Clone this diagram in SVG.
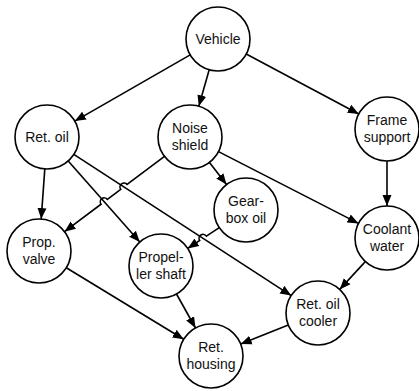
<svg xmlns="http://www.w3.org/2000/svg" width="419" height="391" viewBox="0 0 419 391">
<style>
.n circle{fill:#fff;stroke:#000;stroke-width:1.6}
.n text{font-family:"Liberation Sans",Arial,sans-serif;font-size:14px;fill:#111;text-anchor:middle}
.e path{fill:none;stroke:#000;stroke-width:1.6;marker-end:url(#ah)}
</style>
<defs>
<marker id="ah" markerUnits="userSpaceOnUse" markerWidth="12" markerHeight="10" refX="11" refY="5" orient="auto">
<path d="M0,0.5 L11,5 L0,9.5 z" fill="#000"/>
</marker>
</defs>
<g class="e" id="connectors">
<path d="M190.2,54.9 L74.8,121.1"/>
<path d="M209.2,69.8 L198.8,106.2"/>
<path d="M246.2,54 L358.8,114"/>
<path d="M44.8,168.9 L41.2,219.1"/>
<path d="M68.2,161 L139.8,242"/>
<path d="M73.8,154.4 L291.2,295.6"/>
<path d="M164.5,156.3 L127.09,184.49 A4,4 0 0 0 120.71,189.31 L107.39,199.39 A4,4 0 0 0 101.01,204.21 L64.5,231.7"/>
<path d="M209.5,162.4 L226.5,184.6"/>
<path d="M218.5,151.6 L358.5,223.4"/>
<path d="M387,161 L387,206"/>
<path d="M219.3,227.6 L206.34,236.1 A4,4 0 0 0 199.66,240.5 L187.7,248.4"/>
<path d="M365.3,261.6 L339.7,289.4"/>
<path d="M66.3,267.7 L183.7,339.3"/>
<path d="M176.5,294 L195.5,328"/>
<path d="M288.3,324.9 L240.7,344.1"/>
</g>
<g class="n" id="vehicle"><circle cx="218" cy="39" r="32"/><text x="218" y="44">Vehicle</text></g>
<g class="n" id="ret-oil"><circle cx="47" cy="137" r="32"/><text x="47" y="142">Ret. oil</text></g>
<g class="n" id="noise-shield"><circle cx="190" cy="137" r="32"/><text x="190" y="133">Noise</text><text x="190" y="150">shield</text></g>
<g class="n" id="frame-support"><circle cx="387" cy="129" r="32"/><text x="387" y="125">Frame</text><text x="387" y="142">support</text></g>
<g class="n" id="gearbox-oil"><circle cx="246" cy="210" r="32"/><text x="246" y="206">Gear-</text><text x="246" y="223">box oil</text></g>
<g class="n" id="coolant-water"><circle cx="387" cy="238" r="32"/><text x="387" y="234">Coolant</text><text x="387" y="251">water</text></g>
<g class="n" id="prop-valve"><circle cx="39" cy="251" r="32"/><text x="39" y="247">Prop.</text><text x="39" y="264">valve</text></g>
<g class="n" id="propeller-shaft"><circle cx="161" cy="266" r="32"/><text x="161" y="262">Propel-</text><text x="161" y="279">ler shaft</text></g>
<g class="n" id="ret-oil-cooler"><circle cx="318" cy="313" r="32"/><text x="318" y="309">Ret. oil</text><text x="318" y="326">cooler</text></g>
<g class="n" id="ret-housing"><circle cx="211" cy="356" r="32"/><text x="211" y="352">Ret.</text><text x="211" y="369">housing</text></g>
</svg>
